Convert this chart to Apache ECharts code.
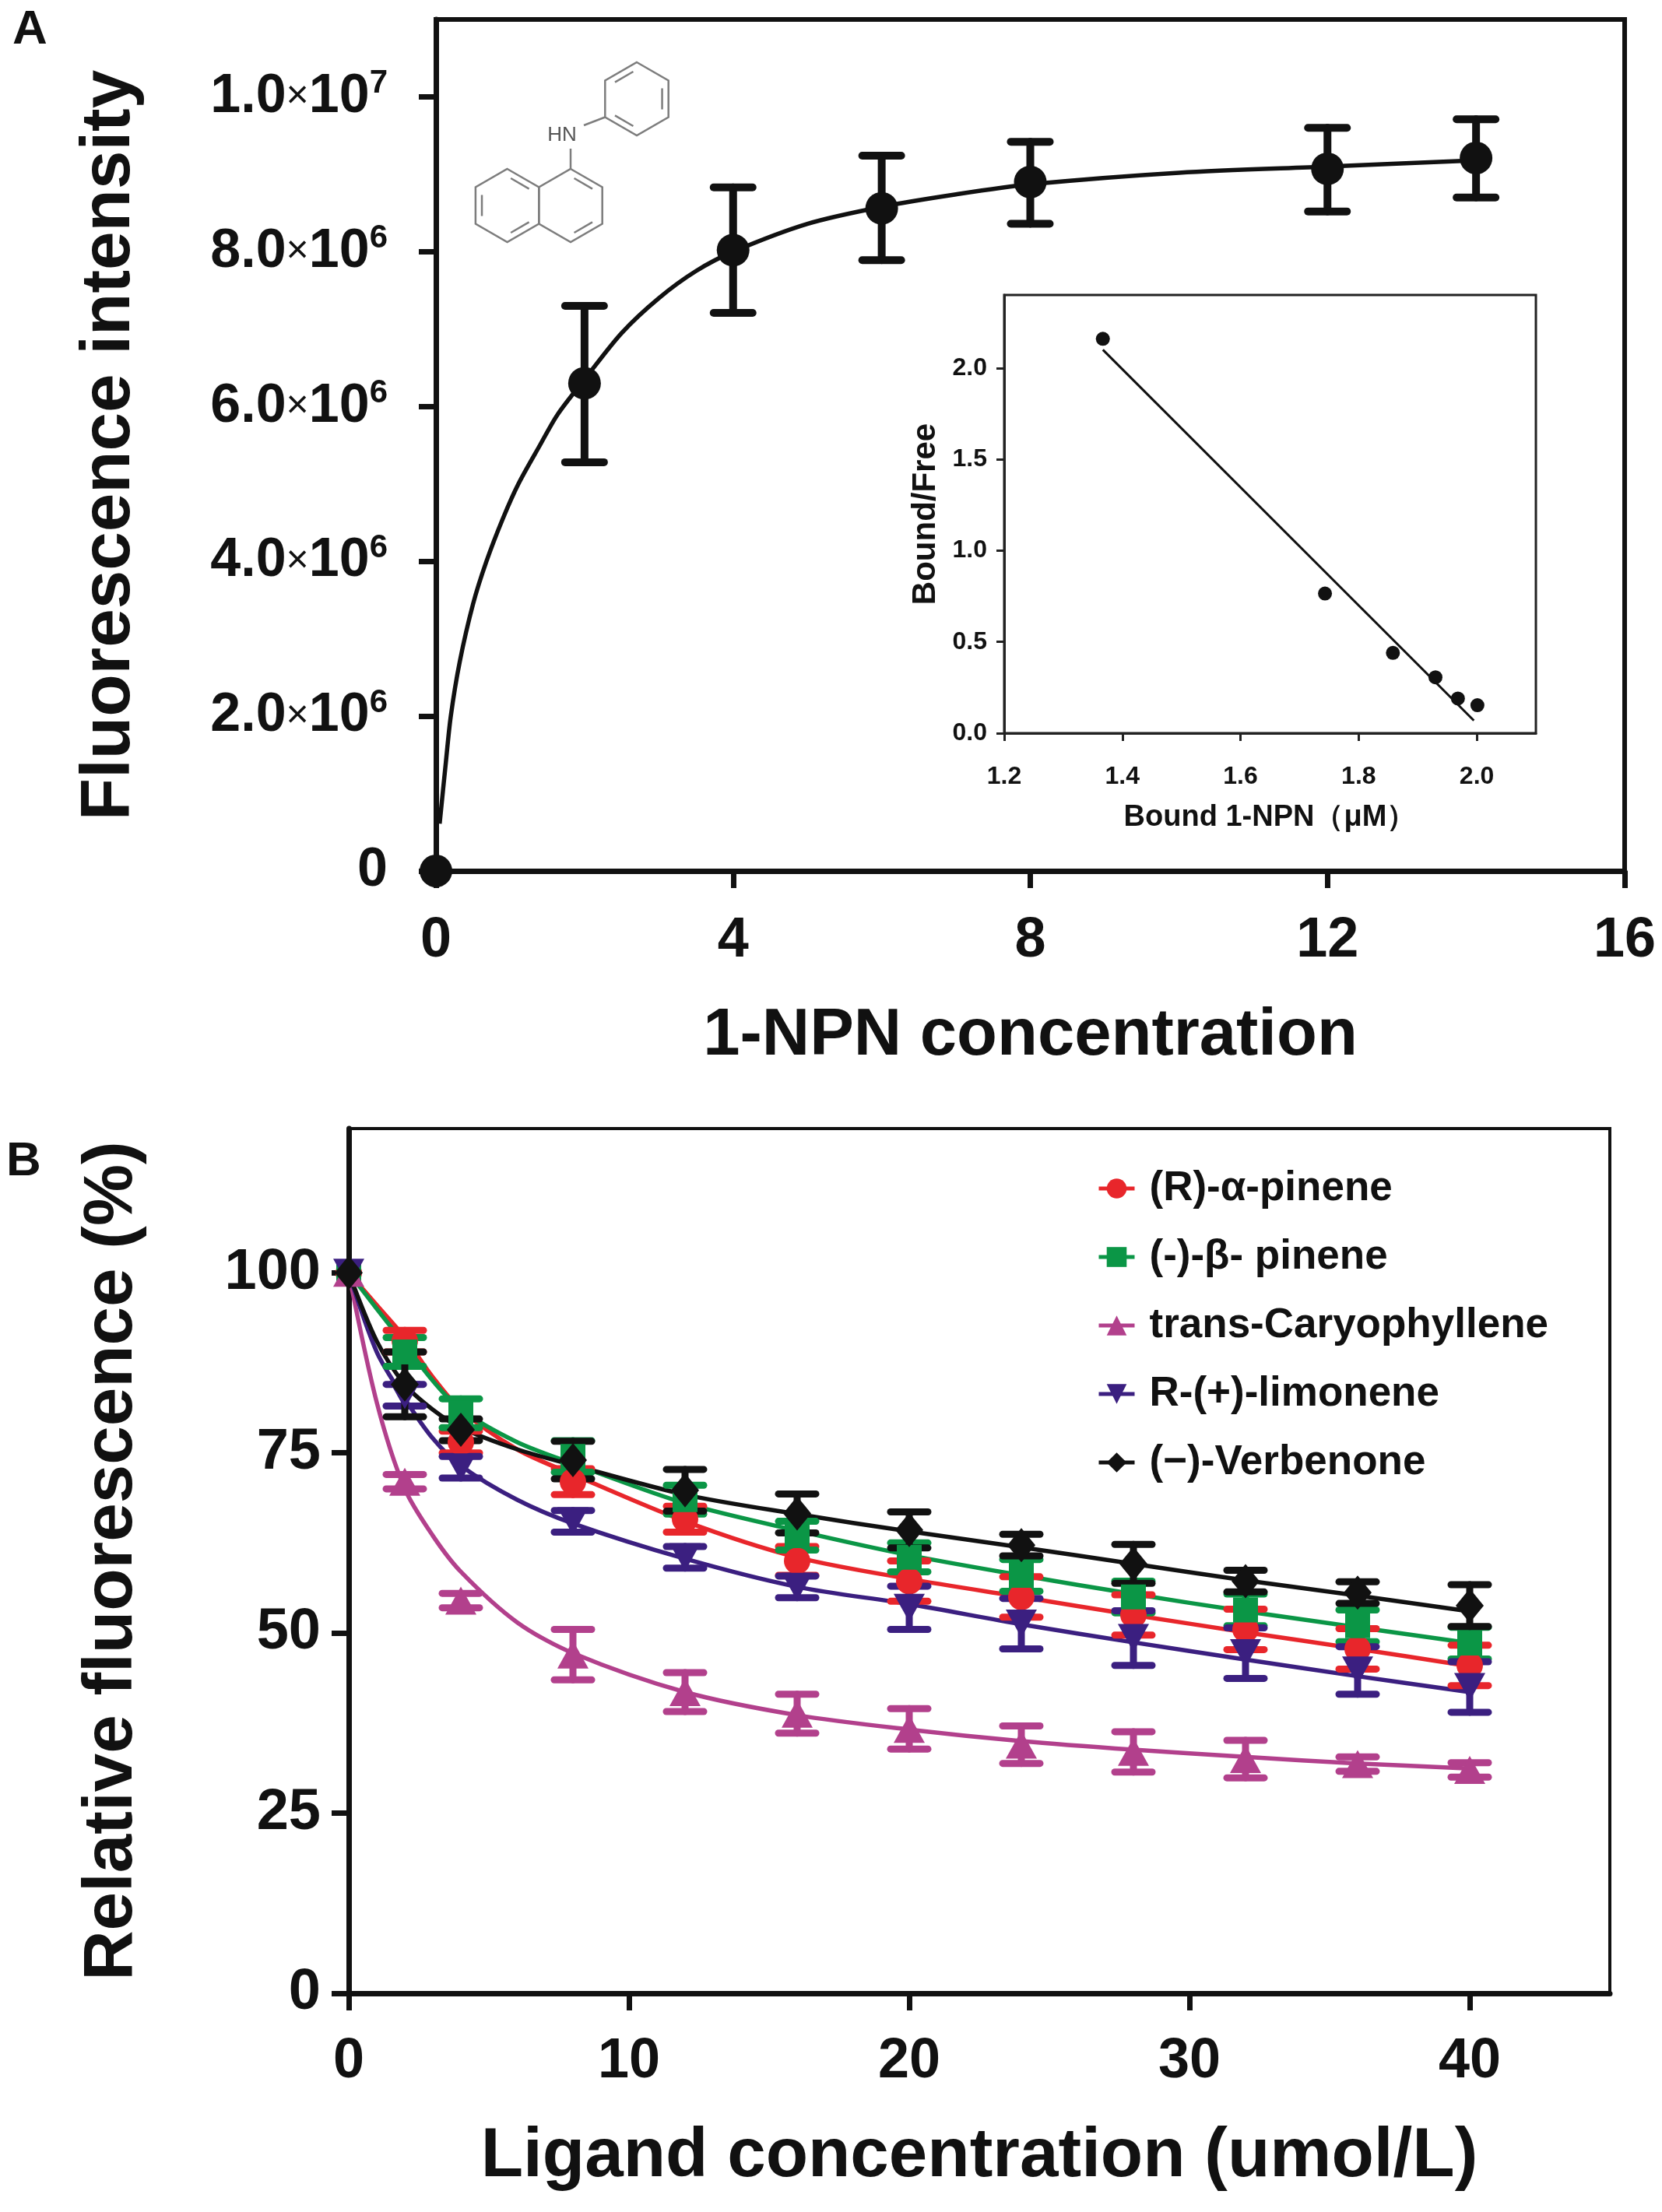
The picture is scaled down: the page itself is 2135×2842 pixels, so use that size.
<!DOCTYPE html>
<html>
<head>
<meta charset="UTF-8">
<title>1-NPN binding and ligand competition</title>
<script src="https://cdn.jsdelivr.net/npm/echarts@6/dist/echarts.min.js"></script>
<style>html,body{margin:0;padding:0;background:#fff;}</style>
</head>
<body>
<div id="main" style="width:2135px;height:2842px;"></div>
<script>
// ---------- panel A : 1-NPN binding curve ----------
var aX   = [0, 2, 4, 6, 8, 12, 14];
var aY   = [0, 6.30e6, 8.02e6, 8.56e6, 8.90e6, 9.07e6, 9.21e6];
var aHi  = [0, 7.30e6, 8.83e6, 9.24e6, 9.42e6, 9.60e6, 9.71e6];
var aLo  = [0, 5.28e6, 7.21e6, 7.89e6, 8.36e6, 8.52e6, 8.70e6];
// fitted curve
var aFitX = [0.05, 0.13, 0.2, 0.32, 0.5, 0.68, 0.9, 1.11, 1.4, 1.64, 2, 2.5, 3, 3.5, 4, 5, 6, 7, 8, 10, 12, 14];
var aFitY = [0.61e6, 1.37e6, 2.0e6, 2.7e6, 3.45e6, 4.0e6, 4.55e6, 5.0e6, 5.5e6, 5.9e6, 6.35e6, 6.95e6, 7.4e6, 7.75e6, 8.0e6,
             8.36e6, 8.58e6, 8.74e6, 8.87e6, 9.02e6, 9.1e6, 9.18e6];
var aXTicks = [0, 4, 8, 12, 16];
var aYTicks = [0, 2e6, 4e6, 6e6, 8e6, 1e7];

// inset : Scatchard plot
var inX = [1.367, 1.743, 1.858, 1.930, 1.968, 2.001];
var inY = [2.16, 0.765, 0.44, 0.306, 0.19, 0.153];
var inLineX = [1.367, 1.995];
var inLineY = [2.10, 0.069];
var inXTicks = [1.2, 1.4, 1.6, 1.8, 2.0];
var inYTicks = [0, 0.5, 1.0, 1.5, 2.0];

// ---------- panel B : competitive binding ----------
var bNames = ['(R)-α-pinene', '(-)-β- pinene', 'trans-Caryophyllene', 'R-(+)-limonene', '(−)-Verbenone'];
var bX = [0, 2, 4, 8, 12, 16, 20, 24, 28, 32, 36, 40];
var bRed    = [100, 90.5, 76.5, 71, 65.8, 60, 57.2, 55, 52.5, 50.5, 47.8, 45.5];
var bGreen  = [100, 89, 80.5, 74.5, 68.5, 63.5, 60.5, 58, 55, 53.2, 51, 48.6];
var bPink   = [100, 71, 54.5, 47, 41.8, 38.8, 36.7, 34.5, 33.5, 32.5, 31.8, 31];
var bPurple = [100, 83, 73, 65.5, 60.5, 56.4, 53.5, 51.3, 49.3, 47.2, 44.8, 42.5];
var bBlack  = [100, 84.5, 78.2, 74, 69.8, 66.6, 64.3, 62.2, 59.6, 57.2, 55.6, 53.8];
var eRed    = [0, 1.5, 1.5, 1.8, 1.8, 2, 2.8, 2.8, 2.8, 2.8, 2.8, 2.8];
var eGreen  = [0, 2, 2, 2.2, 2, 2, 2, 2.2, 2.2, 2.2, 2.2, 2.2];
var ePink   = [0, 1, 1, 3.5, 2.7, 2.7, 2.8, 2.6, 2.8, 2.6, 1, 1];
var ePurple = [0, 1.5, 1.5, 1.5, 1.5, 1.5, 3, 3.5, 3.8, 3.5, 3.3, 3.5];
var eBlack  = [0, 4.5, 1.5, 2.6, 2.9, 2.7, 2.5, 1.5, 2.7, 1.5, 1.5, 2.9];
// fitted curves
var bFitX      = [0, 1, 2, 3, 4, 6, 8, 12, 16, 20, 24, 28, 32, 36, 40];
var fitRed     = [100, 95.5, 91, 85.5, 81, 75.5, 72, 65.5, 60.5, 57.5, 55, 52.5, 50.1, 47.8, 45.4];
var fitGreen   = [100, 95, 90, 85, 81, 76.5, 73.5, 68, 64.2, 60.8, 58, 55.4, 53, 50.8, 48.6];
var fitPink    = [100, 82, 70, 63.5, 58.5, 51.5, 47.2, 41.8, 38.6, 36.6, 35, 33.8, 32.8, 31.9, 31.2];
var fitPurple  = [100, 89, 82.5, 77, 73.2, 68.5, 65.2, 60.3, 56.4, 54, 51.2, 48.7, 46.3, 44, 41.8];
var fitBlack   = [100, 90.5, 84.5, 81, 78.5, 75.5, 73.3, 69.2, 66.5, 64.1, 61.9, 59.6, 57.3, 55.2, 53];
var bXTicks = [0, 10, 20, 30, 40];
var bYTicks = [0, 25, 50, 75, 100];

var FONT = 'Arial, "Liberation Sans", sans-serif';
var INK = '#111';
var bColors  = ['#e8262b', '#0b9646', '#b2408c', '#3b1f80', '#111111'];
var bSymbols = ['circle', 'rect', 'triangle', 'triangle', 'diamond'];
var bRotate  = [0, 0, 0, 180, 0];
var bSizes   = [[34, 34], [32, 32], [40, 36], [40, 36], [36, 44]];

function zip(xs, ys) {
    return xs.map(function (x, i) { return [x, ys[i]]; });
}

// error bars as custom series: value = [x, low, high]
function errorBars(color, width, cap) {
    return function (params, api) {
        var x = api.value(0);
        var top = api.coord([x, api.value(2)]);
        var bot = api.coord([x, api.value(1)]);
        var st = { stroke: color, lineWidth: width, lineCap: 'round' };
        return {
            type: 'group',
            children: [
                { type: 'line', shape: { x1: top[0], y1: top[1], x2: bot[0], y2: bot[1] }, style: st },
                { type: 'line', shape: { x1: top[0] - cap, y1: top[1], x2: top[0] + cap, y2: top[1] }, style: st },
                { type: 'line', shape: { x1: bot[0] - cap, y1: bot[1], x2: bot[0] + cap, y2: bot[1] }, style: st }
            ]
        };
    };
}

function sciLabel(v) {
    if (v === 0) return '{a|0}';
    var e = Math.floor(Math.log10(v) + 1e-9);
    var m = v / Math.pow(10, e);
    return '{a|' + m.toFixed(1) + '}{x|×}{a|10}{s|' + e + '}';
}

// ---- N-phenyl-1-naphthylamine sketch (decoration) ----
var molColor = '#7d7d7d';
function hexPts(cx, cy, r) {
    var p = [];
    for (var i = 0; i < 6; i++) {
        var a = (-90 + 60 * i) * Math.PI / 180;
        p.push([cx + r * Math.cos(a), cy + r * Math.sin(a)]);
    }
    return p;
}
function innerBond(c, p, i, j) {
    var a = p[i], b = p[j], k = 0.2, t = 0.14;
    var a1 = [a[0] + (c[0] - a[0]) * k, a[1] + (c[1] - a[1]) * k];
    var b1 = [b[0] + (c[0] - b[0]) * k, b[1] + (c[1] - b[1]) * k];
    return {
        type: 'line',
        shape: {
            x1: a1[0] + (b1[0] - a1[0]) * t, y1: a1[1] + (b1[1] - a1[1]) * t,
            x2: b1[0] + (a1[0] - b1[0]) * t, y2: b1[1] + (a1[1] - b1[1]) * t
        },
        style: { stroke: molColor, lineWidth: 2.5 }
    };
}
function ring(c, r, doubles) {
    var p = hexPts(c[0], c[1], r);
    var out = [{ type: 'polygon', shape: { points: p }, style: { fill: 'none', stroke: molColor, lineWidth: 2.5 } }];
    doubles.forEach(function (d) { out.push(innerBond(c, p, d[0], d[1])); });
    return out;
}
var molR = 47;
var phC = [818, 127], nrC = [733, 264], nlC = [733 - Math.sqrt(3) * molR, 264];
var phP = hexPts(phC[0], phC[1], molR);
var molecule = []
    .concat(ring(phC, molR, [[5, 0], [1, 2], [3, 4]]))
    .concat(ring(nrC, molR, [[0, 1], [2, 3]]))
    .concat(ring(nlC, molR, [[0, 1], [4, 5], [2, 3]]))
    .concat([
        { type: 'line', shape: { x1: nrC[0], y1: nrC[1] - molR, x2: nrC[0], y2: 191 }, style: { stroke: molColor, lineWidth: 2.5 } },
        { type: 'line', shape: { x1: 750, y1: 161, x2: phP[4][0], y2: phP[4][1] }, style: { stroke: molColor, lineWidth: 2.5 } },
        { type: 'text', x: 722, y: 174, style: { text: 'HN', font: '26px ' + FONT, fill: '#555', align: 'center', verticalAlign: 'middle' } }
    ]);

var myChart = echarts.init(document.getElementById('main'));

var series = [
    {
        type: 'line', xAxisIndex: 0, yAxisIndex: 0, data: zip(aFitX, aFitY),
        smooth: 0.3, showSymbol: false, lineStyle: { color: INK, width: 5.5 }, z: 2
    },
    {
        type: 'custom', xAxisIndex: 0, yAxisIndex: 0,
        data: aX.map(function (x, i) { return [x, aLo[i], aHi[i]]; }).filter(function (d) { return d[2] > d[1]; }),
        renderItem: errorBars(INK, 10, 25), z: 3
    },
    {
        type: 'scatter', xAxisIndex: 0, yAxisIndex: 0, data: zip(aX, aY),
        symbolSize: 42, itemStyle: { color: INK, opacity: 1 }, clip: false, z: 4
    },
    {
        type: 'line', xAxisIndex: 1, yAxisIndex: 1, data: zip(inLineX, inLineY),
        showSymbol: false, lineStyle: { color: INK, width: 3 }
    },
    {
        type: 'scatter', xAxisIndex: 1, yAxisIndex: 1, data: zip(inX, inY),
        symbolSize: 18, itemStyle: { color: INK, opacity: 1 }
    }
];

var bVals = [bRed, bGreen, bPink, bPurple, bBlack];
var bErrs = [eRed, eGreen, ePink, ePurple, eBlack];
var bFits = [fitRed, fitGreen, fitPink, fitPurple, fitBlack];
bNames.forEach(function (name, k) {
    series.push({
        type: 'line', xAxisIndex: 2, yAxisIndex: 2, data: zip(bFitX, bFits[k]),
        smooth: 0.3, showSymbol: false, silent: true,
        lineStyle: { color: bColors[k], width: 5.5 }, z: 2 + k * 0.1
    });
});
bNames.forEach(function (name, k) {
    series.push({
        type: 'custom', xAxisIndex: 2, yAxisIndex: 2,
        data: bX.map(function (x, i) { return [x, bVals[k][i] - bErrs[k][i], bVals[k][i] + bErrs[k][i]]; })
                .filter(function (d) { return d[2] > d[1]; }),
        renderItem: errorBars(bColors[k], 9, 24), z: 3 + k * 0.1
    });
    series.push({
        name: name, type: 'line', xAxisIndex: 2, yAxisIndex: 2, data: zip(bX, bVals[k]),
        symbol: bSymbols[k], symbolSize: bSizes[k], symbolRotate: bRotate[k], showSymbol: true,
        lineStyle: { opacity: 0, color: bColors[k] }, itemStyle: { color: bColors[k] },
        clip: false, z: 4 + k * 0.1
    });
});

var option = {
    backgroundColor: '#fff',
    animation: false,
    textStyle: { fontFamily: FONT },
    grid: [
        { left: 560, top: 25, width: 1527, height: 1094, show: true, borderColor: INK, borderWidth: 6, backgroundColor: 'transparent' },
        { left: 1290, top: 379, width: 683, height: 563, show: true, borderColor: '#222', borderWidth: 3, backgroundColor: '#fff' },
        { left: 448, top: 1450, width: 1620, height: 1111, show: true, borderColor: INK, borderWidth: 4, backgroundColor: 'transparent' }
    ],
    xAxis: [
        {
            gridIndex: 0, type: 'value', min: 0, max: 16,
            axisLine: { onZero: false, lineStyle: { color: INK, width: 7 } },
            axisTick: { customValues: aXTicks, length: 22, lineStyle: { color: INK, width: 7 } },
            axisLabel: { customValues: aXTicks, margin: 54, fontSize: 72, lineHeight: 72, fontWeight: 'bold', color: INK, fontFamily: FONT },
            splitLine: { show: false },
            name: '1-NPN concentration', nameLocation: 'middle', nameGap: 170,
            nameTextStyle: { fontSize: 85, lineHeight: 85, fontWeight: 'bold', color: INK, fontFamily: FONT }
        },
        {
            gridIndex: 1, type: 'value', min: 1.2, max: 2.1,
            axisLine: { onZero: false, lineStyle: { color: '#222', width: 3 } },
            axisTick: { customValues: inXTicks, length: 10, lineStyle: { color: '#222', width: 3 } },
            axisLabel: { customValues: inXTicks, margin: 40, fontSize: 32, lineHeight: 32, fontWeight: 'bold', color: INK, fontFamily: FONT,
                         formatter: function (v) { return v.toFixed(1); } },
            splitLine: { show: false },
            name: 'Bound 1-NPN（μM）', nameLocation: 'middle', nameGap: 90,
            nameTextStyle: { fontSize: 38, lineHeight: 38, fontWeight: 'bold', color: INK, fontFamily: FONT }
        },
        {
            gridIndex: 2, type: 'value', min: 0, max: 45,
            axisLine: { onZero: false, lineStyle: { color: INK, width: 7 } },
            axisTick: { customValues: bXTicks, length: 22, lineStyle: { color: INK, width: 7 } },
            axisLabel: { customValues: bXTicks, margin: 52, fontSize: 72, lineHeight: 72, fontWeight: 'bold', color: INK, fontFamily: FONT },
            splitLine: { show: false },
            name: 'Ligand concentration (umol/L)', nameLocation: 'middle', nameGap: 166,
            nameTextStyle: { fontSize: 89, lineHeight: 89, fontWeight: 'bold', color: INK, fontFamily: FONT }
        }
    ],
    yAxis: [
        {
            gridIndex: 0, type: 'value', min: 0, max: 1.1e7,
            axisLine: { onZero: false, lineStyle: { color: INK, width: 7 } },
            axisTick: { customValues: aYTicks, length: 22, lineStyle: { color: INK, width: 7 } },
            axisLabel: {
                customValues: aYTicks, margin: 62, color: INK, formatter: sciLabel,
                rich: {
                    a: { fontSize: 70, lineHeight: 76, fontWeight: 'bold', color: INK, fontFamily: FONT },
                    x: { fontSize: 50, lineHeight: 76, fontWeight: 'normal', color: INK, fontFamily: FONT },
                    s: { fontSize: 42, lineHeight: 46, fontWeight: 'bold', color: INK, fontFamily: FONT, verticalAlign: 'top' }
                }
            },
            splitLine: { show: false },
            name: 'Fluorescence intensity', nameLocation: 'middle', nameGap: 374,
            nameTextStyle: { fontSize: 89, lineHeight: 89, fontWeight: 'bold', color: INK, fontFamily: FONT }
        },
        {
            gridIndex: 1, type: 'value', min: 0, max: 2.4,
            axisLine: { onZero: false, lineStyle: { color: '#222', width: 3 } },
            axisTick: { customValues: inYTicks, length: 10, lineStyle: { color: '#222', width: 3 } },
            axisLabel: { customValues: inYTicks, margin: 22, fontSize: 32, fontWeight: 'bold', color: INK, fontFamily: FONT,
                         formatter: function (v) { return v.toFixed(1); } },
            splitLine: { show: false },
            name: 'Bound/Free', nameLocation: 'middle', nameGap: 80,
            nameTextStyle: { fontSize: 42, lineHeight: 42, fontWeight: 'bold', color: INK, fontFamily: FONT }
        },
        {
            gridIndex: 2, type: 'value', min: 0, max: 120,
            axisLine: { onZero: false, lineStyle: { color: INK, width: 7 } },
            axisTick: { customValues: bYTicks, length: 22, lineStyle: { color: INK, width: 7 } },
            axisLabel: { customValues: bYTicks, margin: 36, fontSize: 74, fontWeight: 'bold', color: INK, fontFamily: FONT },
            splitLine: { show: false },
            name: 'Relative fluorescence (%)', nameLocation: 'middle', nameGap: 259,
            nameTextStyle: { fontSize: 89, lineHeight: 89, fontWeight: 'bold', color: INK, fontFamily: FONT }
        }
    ],
    legend: {
        data: bNames, orient: 'vertical', left: 1404, top: 1493,
        itemWidth: 46, itemHeight: 32, itemGap: 30,
        lineStyle: { opacity: 1, width: 5 },
        textStyle: { fontSize: 53, lineHeight: 58, fontWeight: 'bold', color: INK, fontFamily: FONT, padding: [0, 0, 0, 14] },
        selectedMode: false
    },
    graphic: [
        { type: 'text', left: 16, top: 8, style: { text: 'A', font: 'bold 62px ' + FONT, fill: INK } },
        { type: 'text', left: 8, top: 1462, style: { text: 'B', font: 'bold 62px ' + FONT, fill: INK } },
        { type: 'group', x: 0, y: 0, children: molecule, silent: true }
    ],
    series: series
};

myChart.setOption(option);
</script>
</body>
</html>
